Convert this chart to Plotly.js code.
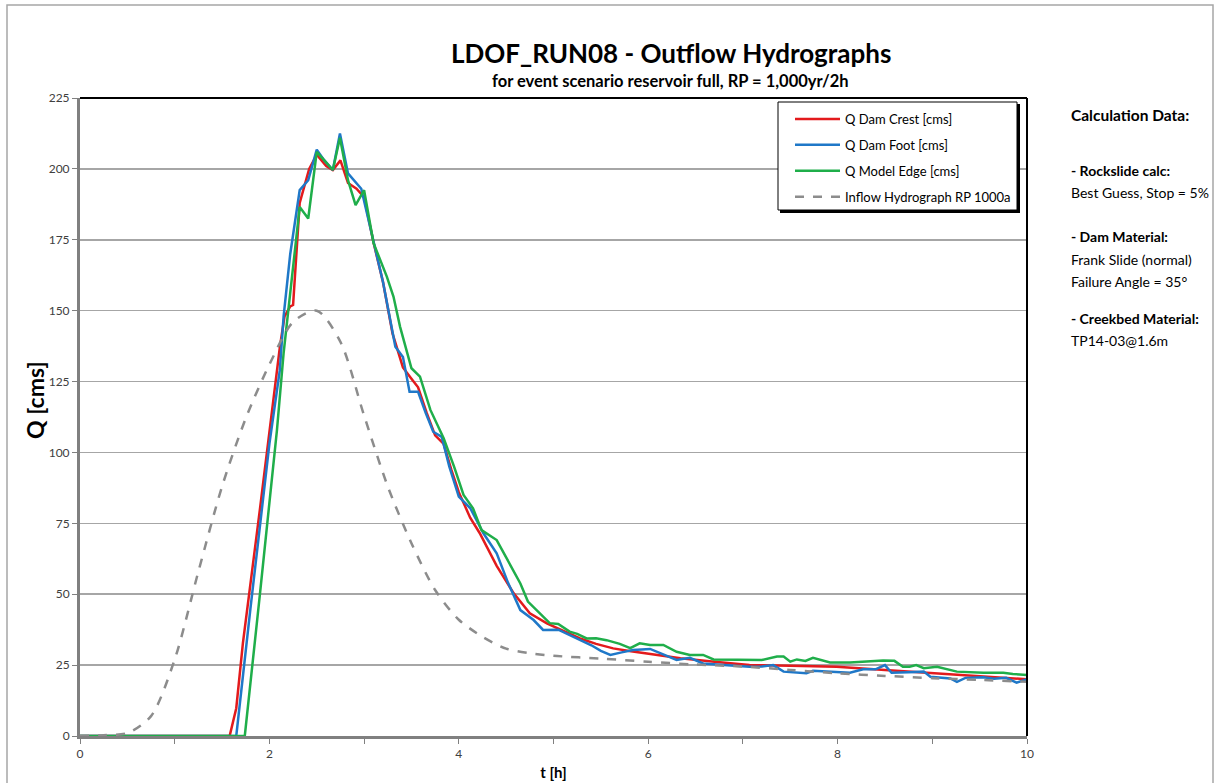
<!DOCTYPE html>
<html>
<head>
<meta charset="utf-8">
<script src="https://cdn.plot.ly/plotly-3.0.1.min.js"></script>
<style>html,body{margin:0;padding:0;background:#fff;}#chart{width:1214px;height:783px;}</style>
</head>
<body>
<div id="chart"></div>
<script>
// Q Dam Crest [cms]
const tCrest = [0, 1.58, 1.65, 1.72, 1.9, 2.11, 2.16, 2.22, 2.25, 2.32, 2.42, 2.5, 2.6, 2.67, 2.75, 2.83, 2.92, 3.0, 3.1, 3.2, 3.3, 3.41, 3.5, 3.57, 3.66, 3.75, 3.84, 3.92, 4.0, 4.12, 4.22, 4.4, 4.58, 4.75, 4.93, 5.1, 5.28, 5.45, 5.63, 5.8, 5.98, 6.34, 6.7, 7.07, 7.5, 7.99, 8.5, 9.01, 9.5, 10];
const qCrest = [0, 0, 9.8, 32.7, 80, 137, 148, 151.5, 152, 188, 200, 205, 201, 199.6, 203, 195, 193, 190, 174, 160, 142, 130, 126, 123, 114, 106, 103, 94, 86, 77, 71.6, 60, 50.3, 43.3, 39.7, 37, 34.4, 32.5, 30.9, 30, 29.2, 27.4, 26.2, 25, 24.8, 24.4, 23.3, 22.1, 21, 20];

// Q Dam Foot [cms]
const tFoot = [0, 1.65, 1.8, 2.0, 2.11, 2.15, 2.22, 2.32, 2.41, 2.5, 2.58, 2.67, 2.745, 2.83, 2.97, 3.1, 3.2, 3.33, 3.41, 3.48, 3.57, 3.65, 3.73, 3.82, 3.9, 4.0, 4.12, 4.26, 4.4, 4.52, 4.65, 4.79, 4.89, 5.05, 5.15, 5.28, 5.4, 5.5, 5.6, 5.72, 5.84, 6.02, 6.15, 6.3, 6.44, 6.58, 6.8, 7.07, 7.2, 7.32, 7.43, 7.67, 7.74, 8.13, 8.27, 8.4, 8.5, 8.57, 8.75, 8.91, 8.98, 9.19, 9.26, 9.35, 9.54, 9.65, 9.78, 9.89, 10];
const qFoot = [0, 0, 45, 103, 129, 148, 170, 192.5, 196, 206.8, 203, 199.6, 212.5, 198.4, 193, 174, 160, 137.3, 133.7, 121.4, 121.4, 114, 107.3, 105.5, 95, 84.4, 80.4, 71.5, 64.4, 54, 44.4, 40.9, 37.4, 37.5, 36, 33.9, 32, 30, 28.6, 29.5, 30.3, 30.7, 29, 26.8, 27.6, 25.6, 25, 24.4, 24.5, 25, 22.7, 22.1, 23, 22.3, 23.5, 23.5, 25, 22.3, 22.5, 22.7, 20.9, 20.3, 19.1, 20.5, 20.7, 20.2, 20.5, 18.8, 20];

// Q Model Edge [cms]
const tEdge = [0, 1.74, 1.9, 2.08, 2.15, 2.22, 2.32, 2.41, 2.5, 2.58, 2.67, 2.745, 2.83, 2.91, 3.0, 3.1, 3.24, 3.31, 3.38, 3.5, 3.59, 3.7, 3.84, 3.95, 4.05, 4.15, 4.24, 4.4, 4.52, 4.65, 4.73, 4.83, 4.96, 5.05, 5.17, 5.25, 5.35, 5.45, 5.56, 5.7, 5.81, 5.91, 6.02, 6.16, 6.3, 6.44, 6.58, 6.69, 6.9, 7.07, 7.2, 7.36, 7.43, 7.5, 7.57, 7.66, 7.74, 7.92, 8.13, 8.48, 8.6, 8.69, 8.76, 8.83, 8.91, 9.05, 9.26, 9.54, 9.75, 9.85, 10];
const qEdge = [0, 0, 50, 108, 135, 157, 186.6, 182.5, 206, 203, 199.6, 211, 196, 187.2, 192.5, 173.8, 162, 155, 144.3, 129.7, 126.7, 115, 105, 95, 85, 80.3, 72.6, 69.1, 62, 53.8, 47.4, 44, 39.8, 39.5, 36.8, 36, 34.4, 34.5, 33.8, 32.5, 31, 32.7, 32.1, 32.1, 29.7, 28.6, 28.6, 27, 27, 26.8, 26.8, 28, 28, 26.2, 27, 26.5, 27.6, 25.9, 25.9, 26.6, 26.5, 24.4, 24.4, 25, 23.9, 24.4, 22.7, 22.3, 22.3, 21.9, 21.5];

// Inflow Hydrograph RP 1000a
const tInflow = [0, 0.25, 0.5, 0.75, 1.0, 1.25, 1.5, 1.75, 2.0, 2.25, 2.5, 2.75, 3.0, 3.25, 3.5, 3.75, 4.0, 4.25, 4.5, 4.75, 5, 5.5, 6, 6.5, 7, 7.5, 8, 8.5, 9, 9.5, 10];
const qInflow = [0, 0.3, 1, 7, 27, 58, 88, 112, 131, 146, 150, 139, 113, 88, 68, 51.5, 41, 35, 30.8, 29.2, 28.3, 27.3, 26.2, 25.2, 24.5, 23.3, 22.1, 21.2, 20.4, 19.8, 19.1];

const seriesNames = ["Q Dam Crest [cms]", "Q Dam Foot [cms]", "Q Model Edge [cms]", "Inflow Hydrograph RP 1000a"];
const xTickVals = [0, 2, 4, 6, 8, 10];
const yTickVals = [0, 25, 50, 75, 100, 125, 150, 175, 200, 225];

const infoLines = [
  ["Calculation Data:", true],
  ["- Rockslide calc:", true],
  ["Best Guess, Stop = 5%", false],
  ["- Dam Material:", true],
  ["Frank Slide (normal)", false],
  ["Failure Angle = 35°", false],
  ["- Creekbed Material:", true],
  ["TP14-03@1.6m", false]
];
const infoY = [115, 170, 192, 237, 259, 281, 318, 340];

const FONT = "Lato, 'Open Sans', sans-serif";

const traces = [
  {x: tCrest, y: qCrest, name: seriesNames[0], legendgroup: "a", mode: "lines", line: {color: "#e31a1c", width: 2.5}},
  {x: tFoot, y: qFoot, name: seriesNames[1], legendgroup: "b", mode: "lines", line: {color: "#1f78c8", width: 2.5}},
  {x: tEdge, y: qEdge, name: seriesNames[2], legendgroup: "c", mode: "lines", line: {color: "#1fae4a", width: 2.5}},
  {x: tInflow, y: qInflow, name: seriesNames[3], legendgroup: "d", mode: "lines", line: {color: "#8c8c8c", width: 2.5, dash: "dash", shape: "spline", smoothing: 0.8}}
];

// pixel helpers for annotation placement (plot area: x 80..1027, y 98..736)
const L = 80, R = 1027, T = 98, B = 736;
const px = v => (v - L) / (R - L);
const py = v => (B - v) / (B - T);

const annotations = [
  {text: "<b>LDOF_RUN08 - Outflow Hydrographs</b>", xref: "paper", yref: "paper", x: px(671), y: py(53), showarrow: false, xanchor: "center", yanchor: "middle", font: {family: FONT, size: 26, color: "#000"}},
  {text: "<b>for event scenario reservoir full, RP = 1,000yr/2h</b>", xref: "paper", yref: "paper", x: px(670), y: py(81), showarrow: false, xanchor: "center", yanchor: "middle", font: {family: FONT, size: 16.5, color: "#000"}},
  {text: "<b>Q [cms]</b>", xref: "paper", yref: "paper", x: px(35), y: py(400), showarrow: false, textangle: -90, xanchor: "center", yanchor: "middle", font: {family: FONT, size: 23, color: "#000"}}
];
infoLines.forEach((ln, i) => {
  annotations.push({
    text: ln[1] ? "<b>" + ln[0] + "</b>" : ln[0],
    xref: "paper", yref: "paper", x: px(1069), y: py(infoY[i]),
    showarrow: false, xanchor: "left", yanchor: "middle",
    font: {family: FONT, size: i === 0 ? 15.5 : 14, color: "#000"}
  });
});

const shapes = [
  // outer frame
  {type: "rect", xref: "paper", yref: "paper", x0: px(7), x1: px(1213), y0: py(790), y1: py(5), line: {color: "#a6a6a6", width: 1.5}},
  // plot area top & right border
  {type: "line", xref: "paper", yref: "paper", x0: 0, x1: 1, y0: 1, y1: 1, line: {color: "#000", width: 2}},
  {type: "line", xref: "paper", yref: "paper", x0: 1, x1: 1, y0: 0, y1: 1, line: {color: "#000", width: 2}},
  // legend box shadow and box
  {type: "rect", xref: "paper", yref: "paper", x0: px(780), x1: px(1020), y0: py(213), y1: py(104), line: {width: 0}, fillcolor: "#000", layer: "above"},
  {type: "rect", xref: "paper", yref: "paper", x0: px(778), x1: px(1017), y0: py(210), y1: py(102), line: {color: "#000", width: 1}, fillcolor: "#fff", layer: "above"}
];

const layout = {
  width: 1214, height: 783,
  margin: {l: 80, r: 187, t: 98, b: 47},
  paper_bgcolor: "#fff", plot_bgcolor: "#fff",
  font: {family: FONT, color: "#404040"},
  showlegend: true,
  legend: {
    x: px(790), y: py(104), xanchor: "left", yanchor: "top",
    bgcolor: "rgba(0,0,0,0)", borderwidth: 0,
    font: {family: FONT, size: 13, color: "#000"},
    traceorder: "grouped", tracegroupgap: 6, itemwidth: 45
  },
  xaxis: {
    range: [0, 10], tickvals: xTickVals, ticks: "outside", ticklen: 5, tickcolor: "#808080",
    minor: {dtick: 1, ticks: "outside", ticklen: 5, tickcolor: "#808080", showgrid: false},
    showgrid: false, zeroline: false, showline: true, linecolor: "#808080", linewidth: 3,
    tickfont: {family: FONT, size: 12, color: "#404040"},
    title: {text: "<b>t [h]</b>", font: {family: FONT, size: 15, color: "#000"}, standoff: 8}
  },
  yaxis: {
    range: [0, 225], tickvals: yTickVals, ticks: "outside", ticklen: 5, tickcolor: "#808080",
    showgrid: true, gridcolor: "#a6a6a6", gridwidth: 1.5, zeroline: false,
    showline: true, linecolor: "#808080", linewidth: 3,
    tickfont: {family: FONT, size: 12, color: "#404040"}
  },
  annotations: annotations,
  shapes: shapes
};

Plotly.newPlot("chart", traces, layout, {displayModeBar: false, staticPlot: true});
</script>
</body>
</html>
